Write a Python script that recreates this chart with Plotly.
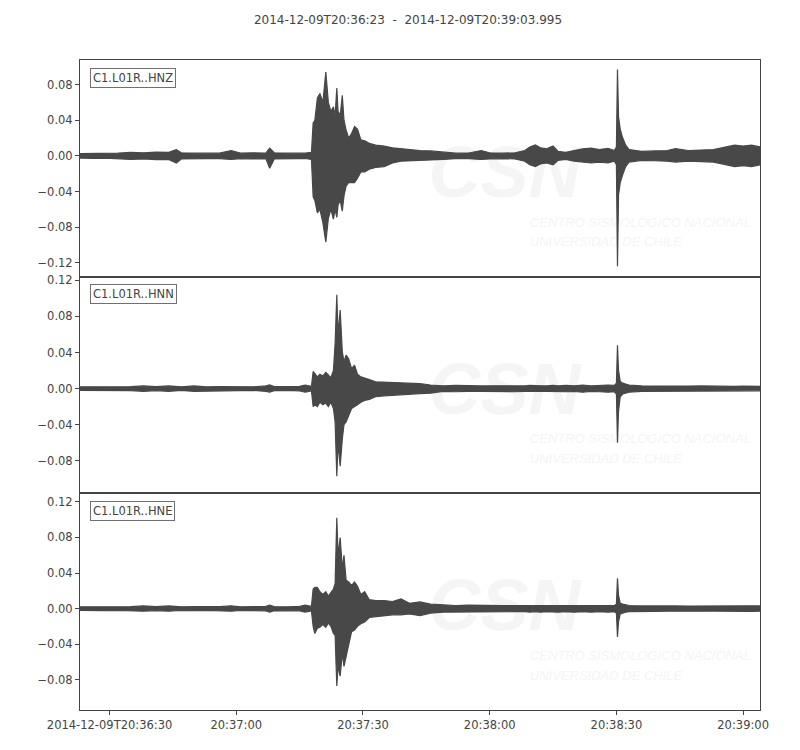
import pandas as pd
import plotly.graph_objects as go
from plotly.subplots import make_subplots

# Ventana de tiempo del registro
START = "2014-12-09 20:36:23"
END = "2014-12-09 20:39:03.995"
TITLE = "2014-12-09T20:36:23  -  2014-12-09T20:39:03.995"

# Segundos desde el inicio en los que se leyo la envolvente de cada traza
T_SEC = [0, 3, 6, 9, 12, 15, 18, 21, 22.8, 24, 27, 30, 33, 35.8, 38, 41, 44, 44.9, 46, 49,
         52, 53.3, 54.8, 55.2, 55.6, 56.2, 56.8, 57.5, 58.2, 58.8, 59.4, 60.0, 60.4, 60.8, 61.1,
         61.6, 62.1, 62.5, 63.0, 63.6, 64.3, 65.0, 65.7, 66.5, 67.4, 68.5, 70, 72, 74, 76, 78,
         80.5, 83, 86, 89, 92, 95, 97, 100, 103, 105.3, 106.5, 107.8, 109, 110.5, 112, 113.2,
         115, 117, 119, 121, 123, 125, 126.5, 127.0, 127.25, 127.5, 127.9, 128.5, 129.2, 130,
         133, 136, 139, 141, 144, 147, 150, 153, 155, 157, 159, 161]

# Canales
CHANNELS = ["C1.L01R..HNZ", "C1.L01R..HNN", "C1.L01R..HNE"]

# HNZ: maximos / minimos
HNZ_MAX = [0.0025, 0.0028, 0.0025, 0.0030, 0.0040, 0.0035, 0.0042, 0.0040, 0.0070, 0.0035,
           0.0030, 0.0032, 0.0030, 0.0060, 0.0030, 0.0035, 0.0030, 0.0086, 0.0035, 0.0030,
           0.0032, 0.0030, 0.0040, 0.037, 0.040, 0.065, 0.070, 0.060, 0.094, 0.060,
           0.050, 0.055, 0.045, 0.076, 0.050, 0.045, 0.068, 0.040, 0.029, 0.020,
           0.025, 0.033, 0.030, 0.018, 0.017, 0.014, 0.012, 0.011, 0.009, 0.008,
           0.007, 0.006, 0.0055, 0.004, 0.0030, 0.0032, 0.0060, 0.0035, 0.0030, 0.0035,
           0.006, 0.010, 0.0123, 0.009, 0.008, 0.011, 0.005, 0.004, 0.006, 0.008,
           0.0086, 0.007, 0.0085, 0.006, 0.010, 0.097, 0.044, 0.030, 0.020, 0.012,
           0.007, 0.005, 0.0055, 0.006, 0.008, 0.006, 0.0065, 0.007, 0.010, 0.012,
           0.011, 0.012, 0.010]
HNZ_MIN = [-0.0025, -0.0028, -0.0025, -0.0030, -0.0040, -0.0035, -0.0042, -0.0040, -0.0080, -0.0035,
           -0.0030, -0.0032, -0.0030, -0.0040, -0.0030, -0.0035, -0.0030, -0.0140, -0.0035, -0.0030,
           -0.0032, -0.0030, -0.0040, -0.046, -0.050, -0.064, -0.060, -0.075, -0.097, -0.070,
           -0.060, -0.071, -0.060, -0.069, -0.055, -0.050, -0.062, -0.045, -0.034, -0.030,
           -0.030, -0.030, -0.025, -0.018, -0.018, -0.015, -0.013, -0.012, -0.008, -0.006,
           -0.006, -0.005, -0.0045, -0.004, -0.0030, -0.0032, -0.0040, -0.0035, -0.0030, -0.0035,
           -0.006, -0.010, -0.012, -0.009, -0.008, -0.010, -0.005, -0.004, -0.006, -0.007,
           -0.008, -0.007, -0.008, -0.006, -0.010, -0.124, -0.044, -0.030, -0.021, -0.012,
           -0.007, -0.005, -0.0055, -0.006, -0.007, -0.006, -0.0065, -0.007, -0.010, -0.012,
           -0.011, -0.012, -0.010]

# HNN: maximos / minimos
HNN_MAX = [0.0020, 0.0020, 0.0022, 0.0020, 0.0022, 0.0030, 0.0022, 0.0030, 0.0022, 0.0020,
           0.0030, 0.0020, 0.0022, 0.0020, 0.0022, 0.0020, 0.0030, 0.0040, 0.0022, 0.0020,
           0.0025, 0.0040, 0.0025, 0.019, 0.017, 0.013, 0.016, 0.014, 0.018, 0.015,
           0.012, 0.020, 0.050, 0.104, 0.060, 0.087, 0.041, 0.030, 0.037, 0.033,
           0.022, 0.026, 0.016, 0.013, 0.012, 0.010, 0.0075, 0.007, 0.0065, 0.0065,
           0.006, 0.0055, 0.004, 0.0030, 0.0035, 0.0030, 0.0030, 0.0032, 0.0030, 0.0035,
           0.0030, 0.0035, 0.0030, 0.0032, 0.0030, 0.0035, 0.0030, 0.0035, 0.0032, 0.0040,
           0.0030, 0.0035, 0.0040, 0.0035, 0.006, 0.048, 0.020, 0.008, 0.006, 0.005,
           0.004, 0.0030, 0.0028, 0.0030, 0.0025, 0.0028, 0.0030, 0.0025, 0.0028, 0.0025,
           0.0028, 0.0025, 0.0025]
HNN_MIN = [-0.0020, -0.0020, -0.0022, -0.0020, -0.0022, -0.0030, -0.0022, -0.0030, -0.0022, -0.0020,
           -0.0030, -0.0020, -0.0022, -0.0020, -0.0022, -0.0020, -0.0030, -0.0040, -0.0022, -0.0020,
           -0.0025, -0.0040, -0.0025, -0.020, -0.018, -0.020, -0.015, -0.018, -0.016, -0.020,
           -0.015, -0.022, -0.037, -0.097, -0.060, -0.086, -0.056, -0.040, -0.037, -0.030,
           -0.022, -0.020, -0.018, -0.015, -0.013, -0.012, -0.009, -0.008, -0.0075, -0.0065,
           -0.006, -0.0055, -0.005, -0.0030, -0.0035, -0.0030, -0.0030, -0.0032, -0.0030, -0.0035,
           -0.0030, -0.0035, -0.0030, -0.0032, -0.0030, -0.0035, -0.0030, -0.0035, -0.0032, -0.0040,
           -0.0030, -0.0035, -0.0040, -0.0035, -0.006, -0.060, -0.025, -0.009, -0.006, -0.005,
           -0.004, -0.0030, -0.0028, -0.0030, -0.0025, -0.0028, -0.0030, -0.0025, -0.0028, -0.0025,
           -0.0028, -0.0025, -0.0025]

# HNE: maximos / minimos
HNE_MAX = [0.0020, 0.0020, 0.0022, 0.0020, 0.0022, 0.0030, 0.0022, 0.0030, 0.0022, 0.0020,
           0.0022, 0.0020, 0.0022, 0.0030, 0.0020, 0.0022, 0.0025, 0.0040, 0.0022, 0.0020,
           0.0025, 0.0040, 0.0025, 0.022, 0.024, 0.024, 0.019, 0.016, 0.019, 0.014,
           0.018, 0.022, 0.028, 0.102, 0.060, 0.080, 0.045, 0.060, 0.032, 0.030,
           0.026, 0.030, 0.025, 0.016, 0.019, 0.010, 0.009, 0.009, 0.008, 0.011,
           0.006, 0.0075, 0.005, 0.0040, 0.0035, 0.0040, 0.0035, 0.0040, 0.0035, 0.0035,
           0.0035, 0.0040, 0.0035, 0.0040, 0.0035, 0.0035, 0.0040, 0.0035, 0.0040, 0.0035,
           0.0040, 0.0035, 0.0040, 0.0035, 0.005, 0.034, 0.015, 0.006, 0.005, 0.004,
           0.0035, 0.0030, 0.0032, 0.0030, 0.0030, 0.0028, 0.0030, 0.0028, 0.0030, 0.0028,
           0.0030, 0.0032, 0.0030]
HNE_MIN = [-0.0020, -0.0020, -0.0022, -0.0020, -0.0022, -0.0030, -0.0022, -0.0030, -0.0022, -0.0020,
           -0.0022, -0.0020, -0.0022, -0.0030, -0.0020, -0.0022, -0.0025, -0.0040, -0.0022, -0.0020,
           -0.0025, -0.0040, -0.0025, -0.020, -0.028, -0.022, -0.021, -0.018, -0.021, -0.016,
           -0.020, -0.028, -0.030, -0.087, -0.065, -0.076, -0.050, -0.065, -0.052, -0.040,
           -0.026, -0.024, -0.020, -0.017, -0.015, -0.010, -0.009, -0.008, -0.007, -0.007,
           -0.006, -0.008, -0.005, -0.0040, -0.0035, -0.0040, -0.0035, -0.0040, -0.0035, -0.0035,
           -0.0035, -0.0040, -0.0035, -0.0040, -0.0035, -0.0035, -0.0040, -0.0035, -0.0040, -0.0035,
           -0.0040, -0.0035, -0.0040, -0.0035, -0.005, -0.032, -0.015, -0.006, -0.005, -0.004,
           -0.0035, -0.0030, -0.0032, -0.0030, -0.0030, -0.0028, -0.0030, -0.0028, -0.0030, -0.0028,
           -0.0030, -0.0032, -0.0030]

# Ticks
X_TICKS = ["2014-12-09 20:36:30", "2014-12-09 20:37:00", "2014-12-09 20:37:30",
           "2014-12-09 20:38:00", "2014-12-09 20:38:30", "2014-12-09 20:39:00"]
X_TICK_LABELS = ["2014-12-09T20:36:30", "20:37:00", "20:37:30", "20:38:00", "20:38:30", "20:39:00"]
Y_TICKS = [[-0.12, -0.08, -0.04, 0.0, 0.04, 0.08],
           [-0.08, -0.04, 0.0, 0.04, 0.08, 0.12],
           [-0.08, -0.04, 0.0, 0.04, 0.08, 0.12]]
Y_RANGES = [[-0.1356, 0.1076], [-0.116, 0.124], [-0.114, 0.1296]]

WAVE = "#484848"
TEXT = "#444444"
WM = "#f5f5f5"
FONT = "DejaVu Sans"
WM_FONT = "Liberation Sans"

times = list(pd.Timestamp(START) + pd.to_timedelta(T_SEC, unit="s"))
base = pd.Timestamp(START)

fig = make_subplots(rows=3, cols=1, shared_xaxes=True, vertical_spacing=0)

envelopes = [(HNZ_MAX, HNZ_MIN), (HNN_MAX, HNN_MIN), (HNE_MAX, HNE_MIN)]

for i, (hi, lo) in enumerate(envelopes):
    row = i + 1
    y0, y1 = Y_RANGES[i]

    # Marca de agua (detras de la senal)
    fig.add_trace(go.Scatter(
        x=[base + pd.Timedelta(seconds=100.5)],
        y=[y0 + 0.45 * (y1 - y0)],
        mode="text", text=["CSN"],
        textfont=dict(family=WM_FONT, size=72, color=WM, weight="bold", style="italic"),
        hoverinfo="skip", showlegend=False
    ), row=row, col=1)
    fig.add_trace(go.Scatter(
        x=[base + pd.Timedelta(seconds=106.5)] * 2,
        y=[y0 + 0.245 * (y1 - y0), y0 + 0.155 * (y1 - y0)],
        mode="text", text=["CENTRO SISMOLÓGICO NACIONAL", "UNIVERSIDAD DE CHILE"],
        textposition="middle right",
        textfont=dict(family=WM_FONT, size=13, color=WM, style="italic"),
        hoverinfo="skip", showlegend=False
    ), row=row, col=1)

    # Envolvente de la senal
    fig.add_trace(go.Scatter(
        x=times + times[::-1],
        y=hi + lo[::-1],
        mode="lines", fill="toself", fillcolor=WAVE,
        line=dict(color=WAVE, width=1.2),
        hoverinfo="skip", showlegend=False
    ), row=row, col=1)

    fig.add_annotation(
        x=0.014, y=0.965, xref="x domain" if row == 1 else f"x{row} domain",
        yref="y domain" if row == 1 else f"y{row} domain",
        xanchor="left", yanchor="top", text=CHANNELS[i], showarrow=False,
        font=dict(family=FONT, size=11.5, color=TEXT),
        bgcolor="white", bordercolor="#707070", borderwidth=1, borderpad=2
    )

    fig.update_yaxes(
        range=Y_RANGES[i], tickvals=Y_TICKS[i], tickformat=".2f",
        showgrid=False, zeroline=False, showline=True, mirror=True,
        linecolor=TEXT, linewidth=1, ticks="outside", ticklen=4, tickcolor=TEXT,
        tickfont=dict(family=FONT, size=11.5, color=TEXT),
        row=row, col=1
    )
    fig.update_xaxes(
        type="date", range=[START, END], showgrid=False, zeroline=False,
        showline=True, mirror=True, linecolor=TEXT, linewidth=1,
        ticks="outside" if row == 3 else "", ticklen=4, tickcolor=TEXT,
        tickvals=X_TICKS, ticktext=X_TICK_LABELS,
        showticklabels=(row == 3),
        tickfont=dict(family=FONT, size=11.5, color=TEXT),
        row=row, col=1
    )

fig.update_layout(
    width=800, height=750,
    margin=dict(l=72, r=48, t=52, b=48),
    paper_bgcolor="white", plot_bgcolor="white",
    title=dict(text=TITLE, x=0.5, xanchor="center", y=0.984, yanchor="middle",
               font=dict(family=FONT, size=12, color=TEXT)),
    showlegend=False
)

fig.write_html("out.html")
